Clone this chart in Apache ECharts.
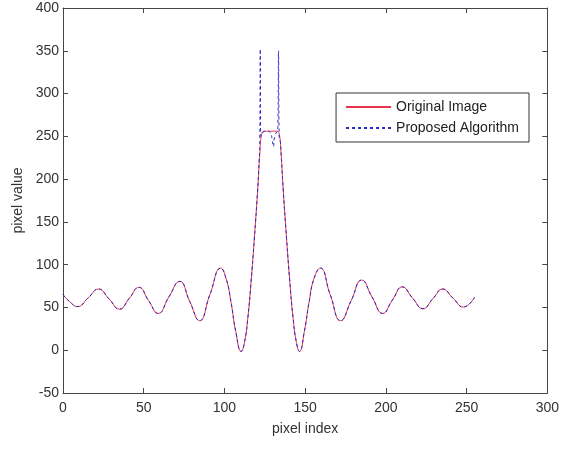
<!DOCTYPE html>
<html>
<head>
<meta charset="utf-8">
<title>pixel value</title>
<script src="https://cdn.jsdelivr.net/npm/echarts@6/dist/echarts.min.js"></script>
<style>
  html, body { margin: 0; padding: 0; background: #fff; }
  #main { width: 562px; height: 456px; }
</style>
</head>
<body>
<div id="main"></div>
<script>
// values
var origX = [0, 4, 9, 15.5, 22, 28.5, 35, 41, 47, 53, 59, 65.5, 72.3, 78.5, 84.6, 91, 97.7,
  101, 104, 107, 110.4, 112.5, 114.5, 116.5, 118.5, 120.5, 122, 123, 124.5, 132.5, 134, 135,
  136.5, 138.5, 140.5, 142.5, 144.5, 146.5, 149.5, 152.5, 155.5, 159.4, 165.5, 172, 178.5,
  185, 191.5, 198, 204, 210.2, 216.5, 223, 229, 235.2, 241.5, 248, 255];
var origY = [65, 57, 51, 61, 71.5, 60, 48, 60.5, 73.5, 58, 43, 62, 80.5, 57, 34.5, 65, 96,
  84, 57, 22, -1.5, 10, 38, 80, 130, 185, 232, 252, 256, 256, 252, 232,
  185, 130, 80, 38, 10, -1.5, 22, 57, 84, 96, 65, 34.5, 58,
  82, 62, 43, 58.5, 74, 61, 48.5, 60, 71.5, 61, 50.5, 62];

// proposed algorithm differs from the original only around the pulse top
var algoPeakX = [121.5, 121.9, 122.2, 122.5, 124, 126.5, 128.5, 129.5, 130.3, 131.2, 132.6, 133.1, 133.5, 133.9, 134.6, 135.2];
var algoPeakY = [222, 240, 352, 250, 255, 256, 254, 247, 238, 251, 256, 262, 350, 248, 244, 226];

var seriesNames = ['Original Image', 'Proposed Algorithm'];

var origData = origX.map(function (x, i) { return [x, origY[i]]; });
var algoData = [];
origX.forEach(function (x, i) { if (x < algoPeakX[0]) algoData.push([x, origY[i]]); });
algoPeakX.forEach(function (x, i) { algoData.push([x, algoPeakY[i]]); });
origX.forEach(function (x, i) { if (x > algoPeakX[algoPeakX.length - 1]) algoData.push([x, origY[i]]); });

var textColor = '#333';
var lineColor = '#444';
var font = 'Liberation Sans, Arial, sans-serif';

function boxAxis(pos, min, max, step) {
  return {
    type: 'value', position: pos, min: min, max: max, interval: step,
    axisLine: { show: true, onZero: false, lineStyle: { color: lineColor, width: 1 } },
    axisTick: { show: true, inside: true, length: 5, lineStyle: { color: lineColor } },
    axisLabel: { show: false },
    splitLine: { show: false }
  };
}

var chart = echarts.init(document.getElementById('main'));
chart.setOption({
  animation: false,
  backgroundColor: '#fff',
  textStyle: { fontFamily: font },
  grid: { left: 63, right: 11, top: 8, bottom: 63 },
  legend: {
    data: seriesNames,
    orient: 'vertical',
    right: 33, top: 93,
    itemWidth: 45, itemHeight: 14, itemGap: 7,
    padding: [7, 10, 7, 9],
    borderColor: '#333', borderWidth: 1,
    backgroundColor: '#fff',
    itemStyle: { opacity: 0 },
    textStyle: { color: '#222', fontSize: 14, fontFamily: font }
  },
  xAxis: [
    {
      type: 'value', min: 0, max: 300, interval: 50,
      name: 'pixel index', nameLocation: 'middle', nameGap: 29,
      nameTextStyle: { color: textColor, fontSize: 14, fontFamily: font },
      axisLine: { show: true, onZero: false, lineStyle: { color: lineColor, width: 1 } },
      axisTick: { show: true, inside: true, length: 5, lineStyle: { color: lineColor } },
      axisLabel: { color: textColor, fontSize: 14, margin: 8, fontFamily: font },
      splitLine: { show: false }
    },
    boxAxis('top', 0, 300, 50)
  ],
  yAxis: [
    {
      type: 'value', min: -50, max: 400, interval: 50,
      name: 'pixel value', nameLocation: 'middle', nameGap: 37,
      nameTextStyle: { color: textColor, fontSize: 14, fontFamily: font },
      axisLine: { show: true, onZero: false, lineStyle: { color: lineColor, width: 1 } },
      axisTick: { show: true, inside: true, length: 5, lineStyle: { color: lineColor } },
      axisLabel: { color: textColor, fontSize: 14, margin: 4, fontFamily: font },
      splitLine: { show: false }
    },
    boxAxis('right', -50, 400, 50)
  ],
  series: [
    {
      name: seriesNames[0], type: 'line', symbol: 'none', smooth: 0.5,
      data: origData,
      lineStyle: { color: '#e8344e', width: 1 },
      itemStyle: { color: '#e8344e' }
    },
    {
      name: seriesNames[1], type: 'line', symbol: 'none', smooth: 0.5,
      data: algoData,
      lineStyle: { color: '#2828c8', width: 1, type: [3, 3] },
      itemStyle: { color: '#2828c8' }
    }
  ]
});
</script>
</body>
</html>
